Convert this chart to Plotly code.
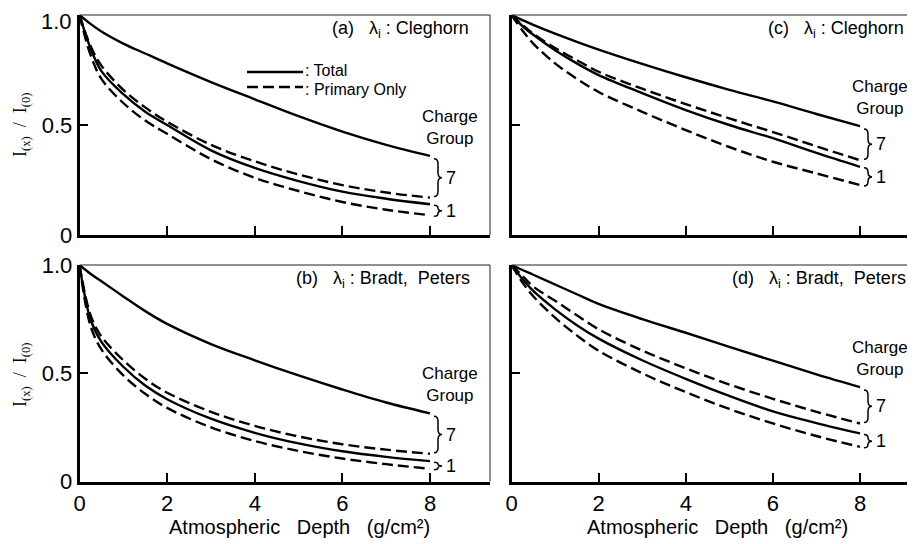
import plotly.graph_objects as go

# page body has an 8px margin, so the figure is 8px smaller and coordinates are shifted
OFF = 8
W, H = 915 - OFF, 544 - OFF

depth = [0, 0.25, 0.5, 1, 1.5, 2, 3, 4, 5, 6, 7, 8]

# (a) Cleghorn, left
a_total7 = [1.0, 0.96, 0.925, 0.87, 0.825, 0.78, 0.695, 0.617, 0.54, 0.47, 0.41, 0.36]
a_prim7 = [1.0, 0.86, 0.77, 0.66, 0.58, 0.515, 0.41, 0.335, 0.275, 0.227, 0.193, 0.17]
a_total1 = [1.0, 0.85, 0.745, 0.64, 0.56, 0.50, 0.385, 0.305, 0.245, 0.197, 0.165, 0.14]
a_prim1 = [1.0, 0.82, 0.71, 0.60, 0.52, 0.46, 0.345, 0.26, 0.20, 0.15, 0.115, 0.09]

# (b) Bradt, Peters, left
b_total7 = [1.0, 0.96, 0.925, 0.855, 0.787, 0.728, 0.635, 0.56, 0.49, 0.425, 0.365, 0.315]
b_prim7 = [1.0, 0.77, 0.67, 0.56, 0.475, 0.41, 0.322, 0.257, 0.208, 0.172, 0.147, 0.128]
b_total1 = [1.0, 0.75, 0.645, 0.53, 0.443, 0.38, 0.29, 0.225, 0.176, 0.14, 0.114, 0.094]
b_prim1 = [1.0, 0.72, 0.61, 0.49, 0.405, 0.34, 0.25, 0.187, 0.141, 0.106, 0.08, 0.059]

# (c) Cleghorn, right
c_total7 = [1.0, 0.977, 0.955, 0.915, 0.878, 0.843, 0.778, 0.717, 0.66, 0.607, 0.55, 0.495]
c_prim7 = [1.0, 0.955, 0.915, 0.85, 0.795, 0.742, 0.665, 0.595, 0.53, 0.468, 0.403, 0.34]
c_total1 = [1.0, 0.95, 0.91, 0.84, 0.78, 0.727, 0.645, 0.568, 0.50, 0.44, 0.373, 0.31]
c_prim1 = [1.0, 0.93, 0.87, 0.78, 0.71, 0.65, 0.56, 0.477, 0.40, 0.333, 0.28, 0.227]

# (d) Bradt, Peters, right
d_total7 = [1.0, 0.977, 0.955, 0.91, 0.865, 0.82, 0.75, 0.687, 0.622, 0.558, 0.495, 0.436]
d_prim7 = [1.0, 0.95, 0.90, 0.835, 0.768, 0.703, 0.605, 0.523, 0.448, 0.382, 0.322, 0.268]
d_total1 = [1.0, 0.935, 0.88, 0.795, 0.722, 0.66, 0.56, 0.474, 0.395, 0.324, 0.27, 0.222]
d_prim1 = [1.0, 0.92, 0.856, 0.757, 0.675, 0.604, 0.50, 0.413, 0.335, 0.268, 0.21, 0.16]

panel_titles = ["(a)   λ<sub>i</sub> : Cleghorn", "(c)   λ<sub>i</sub> : Cleghorn",
                "(b)   λ<sub>i</sub> : Bradt,  Peters", "(d)   λ<sub>i</sub> : Bradt,  Peters"]
y_ticks = [0, 0.5, 1.0]
y_ticktext = ["0", "0.5", "1.0"]
x_ticks = [0, 2, 4, 6, 8]
x_ticktext = ["0", "2", "4", "6", "8"]
x_title = "Atmospheric   Depth   (g/cm²)"
y_title = "I<sub>(x)</sub>  /  I<sub>(0)</sub>"

FONT = "Liberation Sans"

# pixel geometry (screenshot pixels)
left_x = (79.5, 490)
right_x = (511.5, 915)
top_y = (15, 235)      # px for 1.0 and 0
bot_y = (265, 481.5)
ppu_left = (430 - 79.5) / 8
ppu_right = (860 - 511.5) / 8

def px2paper_x(p):
    return (p - OFF) / W

def px2paper_y(p):
    return 1 - (p - OFF) / H

panels = [
    dict(data=(a_total7, a_prim7, a_total1, a_prim1), xs=left_x, ys=top_y, ppu=ppu_left, title=panel_titles[0], tx=471, bottom=False, left=True, top_edge=True),
    dict(data=(c_total7, c_prim7, c_total1, c_prim1), xs=right_x, ys=top_y, ppu=ppu_right, title=panel_titles[1], tx=906, bottom=False, left=False, top_edge=True),
    dict(data=(b_total7, b_prim7, b_total1, b_prim1), xs=left_x, ys=bot_y, ppu=ppu_left, title=panel_titles[2], tx=472, bottom=True, left=True, top_edge=False),
    dict(data=(d_total7, d_prim7, d_total1, d_prim1), xs=right_x, ys=bot_y, ppu=ppu_right, title=panel_titles[3], tx=908, bottom=True, left=False, top_edge=False),
]

fig = go.Figure()
shapes = []
annotations = []
layout = {}

DASH = "11px,5px"
LW = 2.4
TICKFONT = dict(family=FONT, size=22, color="black")

for i, p in enumerate(panels):
    k = "" if i == 0 else str(i + 1)
    xa, ya = "x" + k, "y" + k
    xr = (p["xs"][1] - p["xs"][0]) / p["ppu"]
    t7, p7, t1, p1 = p["data"]
    for series, dash in ((t7, "solid"), (p7, DASH), (t1, "solid"), (p1, DASH)):
        fig.add_trace(go.Scatter(x=depth, y=series, mode="lines", xaxis=xa, yaxis=ya,
                                 line=dict(color="black", width=LW, dash=dash, shape="spline", smoothing=1.0),
                                 showlegend=False, hoverinfo="skip"))
    ytext = list(y_ticktext)
    if p["left"] and p["top_edge"]:
        # the top label sits at the page edge: draw it as an annotation kept inside the figure
        ytext[-1] = ""
        annotations.append(dict(xref="paper", yref="paper", x=px2paper_x(p["xs"][0] - 7), y=1.0,
                                text=y_ticktext[-1], showarrow=False, xanchor="right", yanchor="top",
                                borderpad=0, font=TICKFONT))
    layout["xaxis" + k] = dict(
        domain=[px2paper_x(p["xs"][0]), min(1.0, px2paper_x(p["xs"][1]))],
        range=[0, xr], anchor=ya, showgrid=False, zeroline=False, automargin=False,
        showline=True, linecolor="black", linewidth=2.5,
        ticks="inside", ticklen=9, tickwidth=1.5, tickcolor="black",
        tickvals=x_ticks, ticktext=x_ticktext, showticklabels=p["bottom"],
        ticklabeloverflow="allow", tickfont=TICKFONT,
    )
    layout["yaxis" + k] = dict(
        domain=[px2paper_y(p["ys"][1]), px2paper_y(p["ys"][0])],
        range=[0, 1.0], anchor=xa, showgrid=False, zeroline=False, automargin=False,
        showline=True, linecolor="black", linewidth=2.5,
        ticks="inside", ticklen=9, tickwidth=1.5, tickcolor="black",
        tickvals=y_ticks, ticktext=ytext, showticklabels=p["left"],
        ticklabeloverflow="allow", tickfont=TICKFONT,
    )
    # thin top and right frame
    x0p, x1p = px2paper_x(p["xs"][0]), min(1.0, px2paper_x(p["xs"][1]))
    ytop = px2paper_y(p["ys"][0])
    ybot = px2paper_y(p["ys"][1])
    shapes.append(dict(type="line", xref="paper", yref="paper", x0=x0p, x1=x1p, y0=ytop, y1=ytop,
                       line=dict(color="#222", width=1)))
    if p["xs"][1] < 915:
        shapes.append(dict(type="line", xref="paper", yref="paper", x0=x1p, x1=x1p, y0=ybot, y1=ytop,
                           line=dict(color="#222", width=1)))
    # panel title
    annotations.append(dict(xref="paper", yref="paper", x=px2paper_x(p["tx"]), y=px2paper_y(p["ys"][0] + 14),
                            text=p["title"], showarrow=False, xanchor="right", yanchor="middle",
                            font=dict(family=FONT, size=18, color="black")))
    # charge group label
    xend = depth[-1]
    annotations.append(dict(xref=xa, yref=ya, x=xend, y=t7[-1], text="Charge<br>Group", showarrow=False,
                            xanchor="center", yanchor="bottom", xshift=20, yshift=6, align="center",
                            font=dict(family=FONT, size=17, color="black")))
    # braces
    upp = 1.0 / (p["ys"][1] - p["ys"][0])  # y data per px
    xpu = 1.0 / p["ppu"]
    bx = xend + 4 * xpu
    bw = 4 * xpu
    for (yt, yb, lab) in ((t7[-1] - 3 * upp, p7[-1] + 1 * upp, "7"), (t1[-1] - 1 * upp, p1[-1] - 1 * upp, "1")):
        ym = (yt + yb) / 2
        q = min(5 * upp, (yt - yb) / 4)
        xb1, xb2, xb3 = bx, bx + bw, bx + 2 * bw
        path = (f"M {xb1},{yt} Q {xb2},{yt} {xb2},{yt - q} L {xb2},{ym + q} "
                f"Q {xb2},{ym} {xb3},{ym} Q {xb2},{ym} {xb2},{ym - q} L {xb2},{yb + q} Q {xb2},{yb} {xb1},{yb}")
        shapes.append(dict(type="path", xref=xa, yref=ya, path=path, line=dict(color="black", width=1.5)))
        annotations.append(dict(xref=xa, yref=ya, x=xb3, y=ym, text=lab, showarrow=False,
                                xanchor="left", yanchor="middle", xshift=2,
                                font=dict(family=FONT, size=18, color="black")))

# legend in panel (a)
for yy, ty, dash, lab in ((72, 70.5, "solid", ": Total"), (87, 89.5, "dash", ": Primary Only")):
    shapes.append(dict(type="line", xref="paper", yref="paper", x0=px2paper_x(247), x1=px2paper_x(303),
                       y0=px2paper_y(yy), y1=px2paper_y(yy),
                       line=dict(color="black", width=LW, dash=DASH if dash == "dash" else "solid")))
    annotations.append(dict(xref="paper", yref="paper", x=px2paper_x(303), y=px2paper_y(ty), text=lab,
                            showarrow=False, xanchor="left", yanchor="middle",
                            font=dict(family=FONT, size=16, color="black")))

# axis titles
for cx in (299, 717):
    annotations.append(dict(xref="paper", yref="paper", x=px2paper_x(cx), y=px2paper_y(527), text=x_title,
                            showarrow=False, xanchor="center", yanchor="middle",
                            font=dict(family=FONT, size=20, color="black")))
for cy in (125, 375):
    annotations.append(dict(xref="paper", yref="paper", x=px2paper_x(21), y=px2paper_y(cy), text=y_title,
                            showarrow=False, xanchor="center", yanchor="middle", textangle=-90,
                            font=dict(family="Liberation Serif", size=18, color="black")))

fig.update_layout(
    width=W, height=H, margin=dict(l=0, r=0, t=0, b=0),
    paper_bgcolor="white", plot_bgcolor="white", showlegend=False,
    shapes=shapes, annotations=annotations, **layout,
)

fig.write_html("out.html")
